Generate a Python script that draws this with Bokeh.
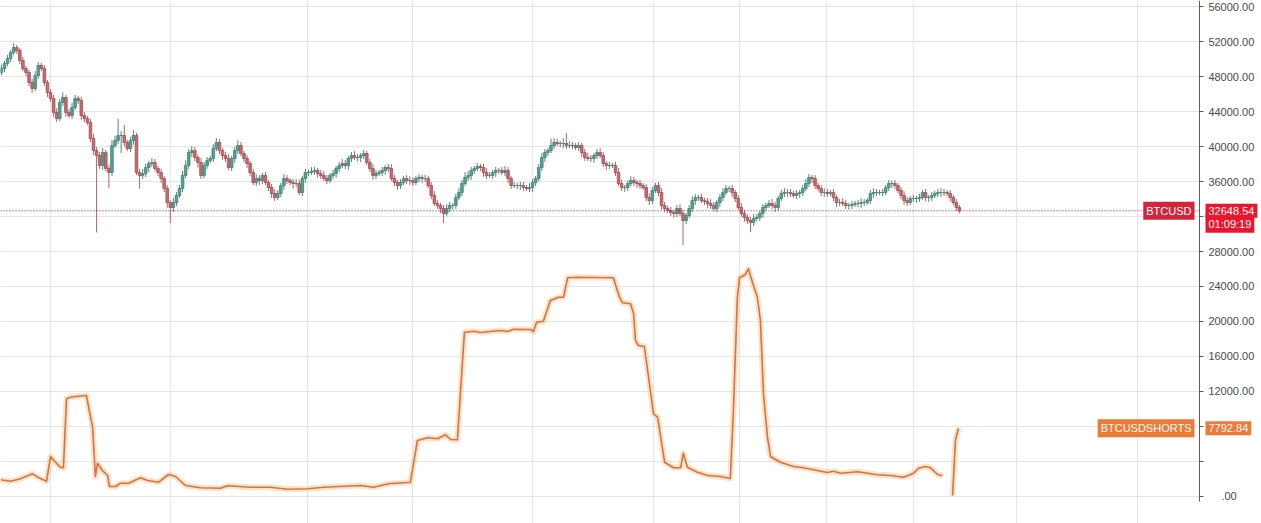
import numpy as np
from bokeh.plotting import figure
from bokeh.models import Label, ColumnDataSource
from bokeh.core.properties import value
from bokeh.embed import file_html
from bokeh.resources import INLINE

# ---------------- data ----------------
first_open = 48450
close = [
    48910, 49490, 50060, 50740, 51310, 50970, 49830, 48910, 48460, 47310,
    46630, 48110, 49260, 48910, 47310, 46170, 45490, 43890, 43200, 45030,
    45600, 43890, 43540, 44460, 45490, 45260, 43540, 43200, 42740, 40910,
    39540, 38970, 37830, 39310, 37490, 37030, 40110, 40690, 41260, 41260,
    40460, 39770, 40690, 41260, 37030, 36690, 36910, 37600, 38060, 38170,
    37490, 37030, 36340, 35200, 33600, 33030, 33600, 34400, 35200, 36690,
    37830, 39310, 39540, 38740, 38170, 36690, 37830, 38400, 38630, 39770,
    40460, 39540, 38970, 38630, 37600, 38630, 39540, 40110, 39200, 38630,
    38060, 37030, 35890, 36340, 36110, 36690, 35890, 35310, 34630, 34170,
    34630, 35540, 36340, 36110, 35890, 35770, 35770, 34740, 36340, 37030,
    37030, 37150, 37260, 36910, 36690, 36340, 36110, 36690, 36910, 37490,
    37830, 38060, 37830, 38630, 38970, 38740, 38740, 38970, 39200, 38170,
    37490, 36690, 36910, 37030, 37260, 37600, 37490, 36340, 35890, 35540,
    35890, 36340, 36110, 36110, 35890, 36340, 36460, 36340, 36340, 35540,
    34400, 33490, 33260, 32910, 32340, 32910, 33260, 33260, 34170, 34740,
    35770, 36460, 36690, 37260, 37490, 37710, 37600, 37030, 36690, 36690,
    37030, 37260, 37260, 37030, 37260, 36340, 35540, 35540, 35540, 35540,
    35310, 35200, 35310, 35890, 36340, 37600, 38740, 39310, 39540, 40110,
    40460, 40340, 40340, 40340, 40110, 40110, 40110, 39890, 40110, 39310,
    38740, 38630, 38630, 38970, 39310, 38970, 38060, 37830, 37830, 37830,
    37030, 35770, 35310, 35310, 35770, 36110, 35890, 35770, 35540, 35310,
    34170, 33830, 34970, 35540, 34740, 33260, 32910, 32690, 32460, 32340,
    32910, 32340, 31540, 32110, 32910, 33830, 34170, 34170, 33830, 33710,
    33490, 33260, 32910, 33600, 34170, 34740, 35200, 35200, 34740, 34060,
    33030, 32340, 31890, 31540, 31310, 31770, 31890, 32340, 33030, 33260,
    33490, 33260, 33030, 34060, 34630, 34740, 34740, 34630, 34400, 34630,
    34740, 35200, 35770, 36460, 36340, 35540, 35200, 34740, 34740, 34630,
    34740, 34170, 33600, 33600, 33490, 33260, 33260, 33370, 33490, 33490,
    33600, 33600, 33830, 34630, 34740, 34740, 34740, 34740, 35310, 35770,
    35770, 35540, 34970, 34400, 33830, 33600, 34060, 34060, 34060, 34170,
    34740, 34170, 34170, 34400, 34630, 34740, 34740, 34740, 34630, 34170,
    33600, 33030, 32648.54,
]
# wick lengths above / below the candle body, in hundreds of USD
wick_hi = [
    4, 3, 4, 3, 5, 3, 3, 4, 3, 3,   4, 5, 4, 3, 4, 3, 4, 4, 5, 4,
    6, 3, 4, 5, 4, 3, 4, 4, 3, 4,   5, 4, 4, 5, 3, 4, 6, 5, 19, 5,
    12, 3, 4, 6, 3, 4, 5, 4, 3, 5,  4, 3, 4, 3, 4, 3, 5, 4, 4, 5,
    6, 4, 5, 4, 3, 5, 4, 4, 3, 5,   5, 4, 3, 4, 5, 3, 4, 6, 4, 3,
    4, 3, 4, 5, 4, 3, 4, 3, 4, 5,   4, 3, 5, 4, 3, 4, 5, 4, 3, 4,
    3, 5, 4, 3, 4, 5, 4, 3, 4, 3,   4, 5, 4, 3, 4, 5, 4, 3, 4, 3,
    4, 5, 4, 3, 4, 3, 4, 5, 4, 3,   4, 3, 4, 5, 4, 3, 4, 3, 4, 3,
    4, 5, 4, 3, 4, 5, 4, 3, 4, 5,   4, 6, 5, 4, 3, 4, 3, 4, 5, 4,
    3, 4, 3, 4, 5, 4, 3, 4, 3, 4,   4, 3, 5, 4, 3, 4, 5, 4, 3, 8,
    5, 4, 3, 6, 12, 5, 4, 3, 4, 3,  4, 5, 4, 3, 4, 5, 4, 3, 4, 3,
    4, 5, 4, 3, 4, 5, 4, 3, 4, 3,   4, 5, 4, 3, 4, 5, 4, 3, 4, 3,
    4, 5, 4, 3, 4, 5, 4, 3, 4, 3,   4, 5, 4, 3, 4, 5, 4, 3, 4, 3,
    4, 5, 4, 3, 4, 5, 4, 3, 4, 3,   4, 5, 4, 3, 4, 5, 4, 4, 3, 4,
    3, 4, 5, 4, 3, 4, 3, 4, 5, 4,   3, 4, 3, 4, 5, 4, 3, 4, 3, 4,
    5, 4, 3, 4, 5, 4, 3, 4, 3, 4,   3, 4, 3, 4, 5, 4, 3, 4, 3, 4,
    3, 4, 3, 4, 3, 4, 5, 4, 3, 4,   3, 4, 3,
]
wick_lo = [
    3, 4, 3, 4, 3, 4, 4, 3, 4, 4,   5, 3, 4, 3, 4, 5, 4, 5, 4, 3,
    4, 5, 3, 4, 3, 4, 5, 4, 3, 4,   5, 88, 4, 5, 3, 18, 4, 3, 4, 20,
    4, 3, 4, 5, 3, 15, 4, 4, 5, 4,  3, 4, 5, 4, 6, 18, 5, 4, 3, 4,
    3, 4, 5, 4, 6, 4, 3, 4, 3, 4,   3, 4, 5, 4, 3, 4, 5, 4, 3, 4,
    5, 4, 3, 4, 5, 4, 3, 4, 5, 4,   3, 4, 5, 4, 3, 6, 4, 3, 4, 5,
    4, 3, 4, 5, 4, 3, 4, 3, 4, 5,   4, 3, 4, 5, 4, 3, 4, 5, 4, 3,
    4, 5, 4, 3, 4, 5, 4, 3, 4, 5,   4, 3, 4, 5, 4, 3, 4, 5, 4, 3,
    4, 3, 4, 5, 11, 3, 4, 5, 4, 3,  4, 3, 4, 5, 4, 3, 4, 5, 4, 3,
    4, 5, 4, 3, 4, 5, 4, 3, 4, 5,   4, 3, 4, 5, 4, 3, 4, 5, 4, 3,
    4, 3, 4, 5, 4, 3, 4, 3, 4, 5,   4, 3, 4, 5, 4, 3, 4, 5, 4, 3,
    4, 3, 4, 5, 4, 3, 4, 5, 4, 3,   4, 5, 4, 3, 4, 5, 4, 3, 4, 5,
    4, 3, 28, 4, 3, 4, 5, 4, 3, 4,  5, 4, 3, 4, 5, 4, 3, 4, 5, 4,
    3, 4, 5, 4, 11, 4, 3, 4, 5, 4,  3, 4, 5, 4, 3, 4, 5, 4, 3, 4,
    5, 4, 3, 4, 5, 4, 3, 4, 5, 4,   3, 4, 5, 4, 3, 4, 5, 4, 3, 4,
    5, 4, 3, 4, 5, 4, 3, 4, 3, 4,   5, 4, 3, 4, 5, 4, 3, 4, 5, 4,
    3, 4, 5, 4, 3, 4, 5, 4, 3, 4,   3, 4, 3,
]

nan = float("nan")
shorts_bar = [
    -0.3, 3.0, 6.2, 10.1, 11.8, 14.7, 16.0, 17.6, 19.2, 20.2,
    21.2, 22.5, 24.8, 27.7, 28.4, 29.7, 30.6, 31.3, 32.9, 34.6,
    35.2, 37.2, 38.8, 41.4, 45.3, 47.6, 51.2, 54.4, 56.7, 60.0,
    64.8, 71.4, 73.6, 81.1, 87.6, 93.2, 99.7, 104.9, 116.9, 121.2,
    126.1, 133.2, 135.5, 138.8, 142.0, 144.6, 146.3, 148.5, 150.8, 153.8,
    156.0, 162.5, 164.8, 166.8, 172.3, 173.3, 174.3, 176.5, 178.8, 181.4,
    183.1, 184.4, 187.6, 199.3, 201.3, 202.3, 204.9, 205.9, 206.5, 207.5,
    209.4, 212.4, 213.7, 216.0, 218.9, 221.2, 222.1, 223.4, 226.7, 230.0,
    234.2, 237.4, 238.4, 239.7, 240.4, 242.3, 243.3, 244.6, 246.2, 247.2,
    248.2, 249.5, 250.5, 252.1, 253.7, 258.0, 261.2, 264.5, 269.0, 271.0,
    273.3, 278.8, 285.3, 289.6, 293.8, 297.1, 298.7, 301.0, 302.6, 304.9,
    306.5, nan, 309.8, 310.7, 311.7,
]
shorts_val = [
    1909, 1749, 2023, 2594, 2206, 1749, 4571, 3920, 3349, 3280,
    11166, 11349, 11463, 11543, 10206, 7920, 2286, 3806, 2971, 2400,
    1143, 1143, 1520, 1520, 2137, 1829, 1634, 2514, 2286, 1257,
    994, 949, 1223, 1063, 1063, 834, 880, 1063, 1257, 1063,
    1451, 1634, 6400, 6709, 6594, 7051, 6514, 6480, 18777, 18891,
    18743, 18971, 18857, 19120, 19086, 18857, 19920, 20034, 22400, 22777,
    22777, 24994, 25063, 24994, 22777, 22137, 22023, 20880, 17829, 17257,
    17143, 9451, 9063, 3920, 3280, 3280, 4949, 3349, 2777, 2400,
    2286, 2057, 9829, 22777, 24994, 25371, 26023, 24491, 22777, 20114,
    11737, 6777, 4571, 4229, 3920, 3429, 3280, 3051, 2743, 2891,
    2663, 2823, 2480, 2400, 2206, 2663, 3234, 3429, 3280, 2514,
    2366, nan, 114, 6400, 7792.84,
]

y_ticks = [4000, 8000, 12000, 16000, 20000, 24000, 28000, 32000,
           36000, 40000, 44000, 48000, 52000, 56000]
# price-scale labels as shown (4000 hidden, 8000 / 32000 under the tags)
y_tick_labels = ["", "", "12000.00", "16000.00", "20000.00", "24000.00",
                 "28000.00", "", "36000.00", "40000.00", "44000.00", "48000.00",
                 "52000.00", "56000.00"]
zero_tick = 0
zero_label = ".00"
date_grid_bars = [16.0, 55.1, 99.7, 133.9, 173.0, 212.4, 240.4, 268.7, 297.0, 330.6, 370.0]

last_price = 32648.54
last_price_text = "32648.54"
countdown_text = "01:09:19"
last_short = 7792.84
last_short_text = "7792.84"

assert len(close) == len(wick_hi) == len(wick_lo)
assert len(shorts_bar) == len(shorts_val)
assert len(y_ticks) == len(y_tick_labels)

# ---------------- build ----------------
W, H = 1261, 523
X0, X1 = -0.3, 410.4          # bar units across the full width
AXIS_X = 390.2                # price scale position (bar units)
Y0, Y1 = -3086, 56686

UP_FILL, DOWN_FILL = "#44a893", "#d66469"
UP_EDGE, DOWN_EDGE = "#4f7c74", "#8d5659"
UP_WICK, DOWN_WICK = "#55857d", "#b0636a"
ORANGE = "#d4753a"
GRID = "#e4e4e4"

n = len(close)
bars = np.arange(n)
c = np.array(close, dtype=float)
o = np.concatenate([[first_open], c[:-1]])
top = np.maximum(o, c)
bot = np.minimum(o, c)
hi = top + np.array(wick_hi) * 100.0
lo = bot - np.array(wick_lo) * 100.0
is_up = c >= o
fill = np.where(is_up, UP_FILL, DOWN_FILL)
edge = np.where(is_up, UP_EDGE, DOWN_EDGE)
wick = np.where(is_up, UP_WICK, DOWN_WICK)

src = ColumnDataSource(dict(x=bars, top=top, bot=bot, hi=hi, lo=lo,
                            fill=fill, edge=edge, wick=wick))

p = figure(
    frame_width=W, frame_height=H,
    x_range=(X0, X1), y_range=(Y0, Y1),
    x_axis_location=None, y_axis_location=None,
    output_backend="svg", toolbar_location=None,
    min_border=0, background_fill_color="white", border_fill_color="white",
    outline_line_color=None,
)
p.xgrid.visible = False
p.ygrid.visible = False

all_ticks = [zero_tick] + y_ticks

# grid
p.segment(x0=date_grid_bars, y0=Y0, x1=date_grid_bars, y1=Y1, line_color=GRID, line_width=1)
p.segment(x0=X0, y0=all_ticks, x1=AXIS_X, y1=all_ticks, line_color=GRID, line_width=1)

# candles
p.segment(x0="x", y0="lo", x1="x", y1="hi", line_color="wick", line_width=1, source=src)
p.vbar(x="x", width=0.85, top="top", bottom="bot", fill_color="fill", line_color="edge",
       line_width=0.8, source=src)

# last price dotted line
p.segment(x0=[X0], y0=[last_price], x1=[AXIS_X], y1=[last_price], line_color="#8a1f2c",
          line_dash="1 2", line_width=1)

# shorts line with soft glow
p.line(shorts_bar, shorts_val, line_color="#f9cfab", line_width=6, line_alpha=0.6,
       line_join="round")
p.line(shorts_bar, shorts_val, line_color=ORANGE, line_width=1.6, line_join="round")

# price scale (drawn on the right)
p.segment(x0=[AXIS_X], y0=[Y0 + 2500], x1=[AXIS_X], y1=[Y1], line_color="#5a5a5a", line_width=1)
p.segment(x0=AXIS_X, y0=all_ticks, x1=AXIS_X + 1.3, y1=all_ticks, line_color="#5a5a5a", line_width=1)
p.text(x=AXIS_X + 2.9, y=y_ticks, text=y_tick_labels, text_font=value("Liberation Sans"),
       text_font_size="11px", text_color="#4a4a4a", text_baseline="middle", text_align="left")
p.text(x=[AXIS_X + 2.9], y=[zero_tick], text=[zero_label], x_offset=13,
       text_font=value("Liberation Sans"), text_font_size="11px", text_color="#4a4a4a",
       text_baseline="middle", text_align="left")

# price tags
def tag(x, y, text, color, align, y_off=0):
    p.add_layout(Label(
        x=x, y=y, x_units="screen", y_units="data", y_offset=y_off,
        text=text, text_font="Liberation Sans", text_font_size="11px",
        text_color="white", text_align=align, text_baseline="middle",
        background_fill_color=color, background_fill_alpha=1.0, padding=3,
    ))

tag(1194, last_price, "BTCUSD", "#d3243c", "right")
tag(1205, last_price, last_price_text, "#ec1530", "left")
tag(1205, last_price, countdown_text, "#ec1530", "left", y_off=-13)
tag(1194, last_short, "BTCUSDSHORTS", "#ee7a38", "right")
tag(1205, last_short, last_short_text, "#ee7a38", "left")

open("out.html", "w").write(file_html(p, INLINE))
